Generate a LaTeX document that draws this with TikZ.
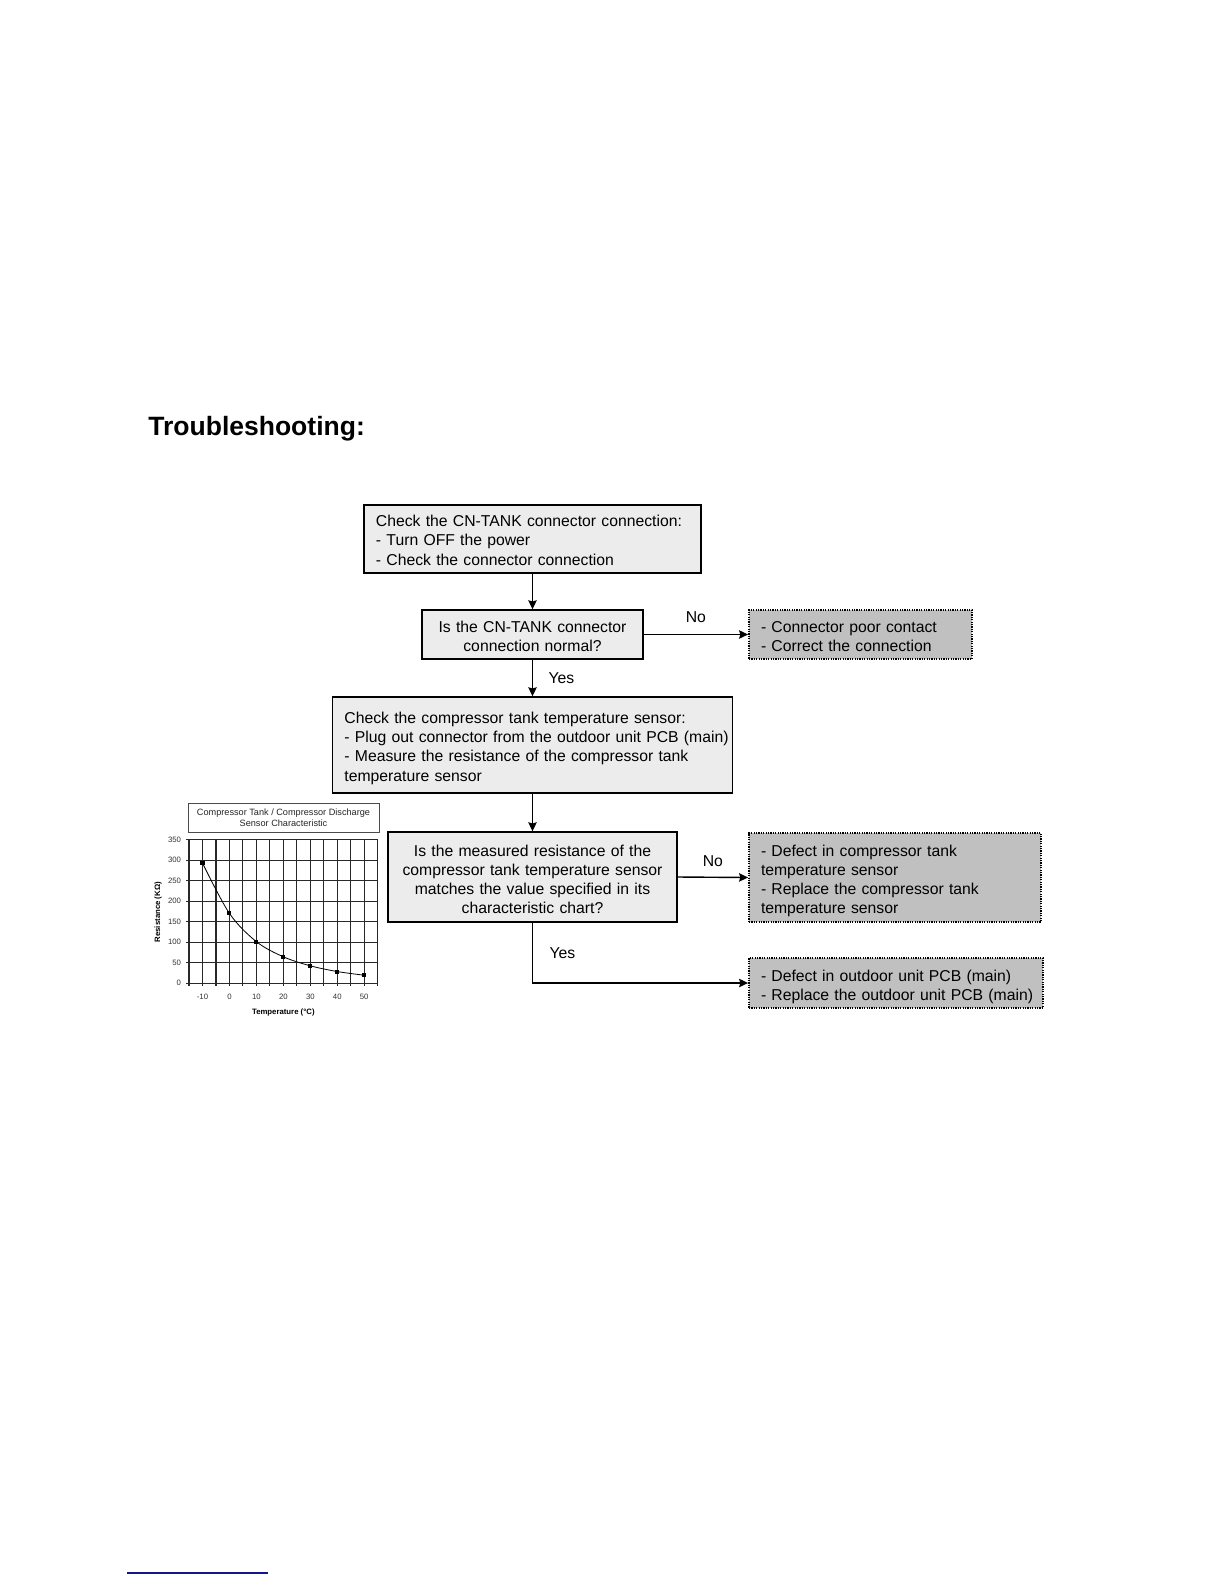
\documentclass[tikz,border=0pt]{standalone}
\usepackage{fontspec}
\setmainfont{Liberation Sans}
\usetikzlibrary{arrows.meta}
\definecolor{boxfill}{RGB}{236,236,236}
\definecolor{resfill}{RGB}{192,192,192}
\definecolor{navyline}{RGB}{20,20,140}
\definecolor{gridc}{RGB}{40,40,40}
\begin{document}
\begin{tikzpicture}[x=0.5bp,y=-0.5bp,
  boxfont/.style={font=\fontsize{7.9}{9.6}\selectfont},
  tshift/.style={execute at begin node={\rule{0pt}{\dimexpr 6bp+#1*2\relax}}},
  proc/.style={draw=black, line width=0.7bp, fill=boxfill, boxfont, inner xsep=6bp, inner ysep=0pt, anchor=center},
  res/.style={draw=black, line width=0.9bp, dash pattern=on 0.6bp off 0.6bp, fill=resfill, boxfont, inner xsep=6bp, inner ysep=0pt, anchor=center},
  arr/.style={-{Stealth[length=4.5bp,width=4.2bp,inset=0.6bp]}, line width=0.7bp},
  lbl/.style={boxfont, inner sep=0pt},
  vgrid/.style={draw=gridc, line width=0.55bp},
  hgrid/.style={draw=gridc, line width=0.45bp},
  tick/.style={font=\fontsize{3.9}{4.5}\selectfont, inner sep=0pt, text=black!80},
  axtitle/.style={font=\bfseries\fontsize{3.9}{4.5}\selectfont, inner sep=0pt}
]
\useasboundingbox[fill=white] (0,0) rectangle (1224,1584);

% title
\node[anchor=base west, inner sep=0pt, font=\bfseries\fontsize{13.3}{16}\selectfont] (title) at (148,435) {Troubleshooting:};

% flowchart boxes
\node[proc, tshift=0.5bp, minimum width=168.5bp, minimum height=34bp, text width=156.5bp, align=left] (b1) at (532.5,539)
  {Check the CN-TANK connector connection:\\- Turn OFF the power\\- Check the connector connection};
\node[proc, tshift=1bp, minimum width=110.5bp, minimum height=24.5bp, text width=98.5bp, align=center] (b2) at (532.5,634.5)
  {Is the CN-TANK connector\\connection normal?};
\node[res, tshift=1bp, minimum width=111.5bp, minimum height=24.5bp, text width=99.5bp, align=left] (b3) at (860.5,634.5)
  {\mbox{- Connector poor contact}\\\mbox{- Correct the connection}};
\node[proc, tshift=1.5bp, minimum width=200bp, minimum height=48bp, text width=188bp, align=left] (b4) at (532.5,745)
  {Check the compressor tank temperature sensor:\\\mbox{- Plug out connector from the outdoor unit PCB (main)}\\\mbox{- Measure the resistance of the compressor tank}\\temperature sensor};
\node[proc, tshift=1bp, inner xsep=3bp, minimum width=144.5bp, minimum height=45bp, text width=138.5bp, align=center] (b5) at (532.5,877)
  {Is the measured resistance of the\\compressor tank temperature sensor\\matches the value specified in its\\characteristic chart?};
\node[res, tshift=1.5bp, minimum width=146bp, minimum height=44.5bp, text width=134bp, align=left] (b6) at (895,877.5)
  {\mbox{- Defect in compressor tank}\\temperature sensor\\\mbox{- Replace the compressor tank}\\temperature sensor};
\node[res, tshift=2bp, minimum width=147bp, minimum height=25bp, text width=135bp, align=left] (b7) at (896,983)
  {\mbox{- Defect in outdoor unit PCB (main)}\\\mbox{- Replace the outdoor unit PCB (main)}};

% connectors
\draw[arr] (b1.south) -- (b2.north);
\draw[arr] (b2.east) -- (b3.west) node[lbl, midway, yshift=8.75bp] {No};
\draw[arr] (b2.south) -- (b4.north) node[lbl, midway, xshift=14.5bp] {Yes};
\draw[arr] (b4.south) -- (b5.north);
\draw[arr] (b5.east) -- (b6.west) node[lbl, midway, yshift=8.25bp] {No};
\coordinate (c1) at (b5.south |- b7.west);
\draw[arr] (b5.south) -- (c1) node[lbl, midway, xshift=15bp] {Yes} -- (b7.west);

% chart title box
\node[draw=black!70, line width=0.4bp, fill=white, minimum width=95.5bp, minimum height=14.5bp, inner sep=0pt,
  align=center, font=\fontsize{4.6}{5.6}\selectfont, text=black!85] (ctitle) at (283.5,817.5)
  {Compressor Tank / Compressor Discharge\\Sensor Characteristic};

% chart
\begin{scope}[shift={(229.44,983)}, x=1.348bp, y=0.20475bp]
  \foreach \t in {-15,-10,...,55} \draw[vgrid] (\t,-7) -- (\t,350);
  \foreach \r in {0,50,...,350} \draw[hgrid] (-16.2,\r) -- (55,\r);
  \foreach \r in {0,50,...,350} \node[tick, anchor=east] at (-17.8,\r) {\r};
  \foreach \t in {-10,0,...,50} \node[tick] at (\t,-33.5) {\t};
  \draw[line width=0.4bp] plot[smooth, tension=0.55] coordinates {(-10,293) (0,170) (10,101) (20,64) (30,42) (40,28) (50,19)};
  \foreach \t/\r in {-10/293,0/170,10/101,20/64,30/42,40/28,50/19}
    \fill (\t,\r) ++(-0.75,-4.9) rectangle ++(1.5,9.8);
  \node[axtitle] (xt) at (20,-73) {Temperature (°C)};
  \node[axtitle, rotate=90] (yt) at (-26.5,173) {Resistance (KΩ)};
\end{scope}

% footnote rule
\draw[navyline, line width=0.8bp] (127,1573) -- (268,1573);
\end{tikzpicture}
\end{document}
